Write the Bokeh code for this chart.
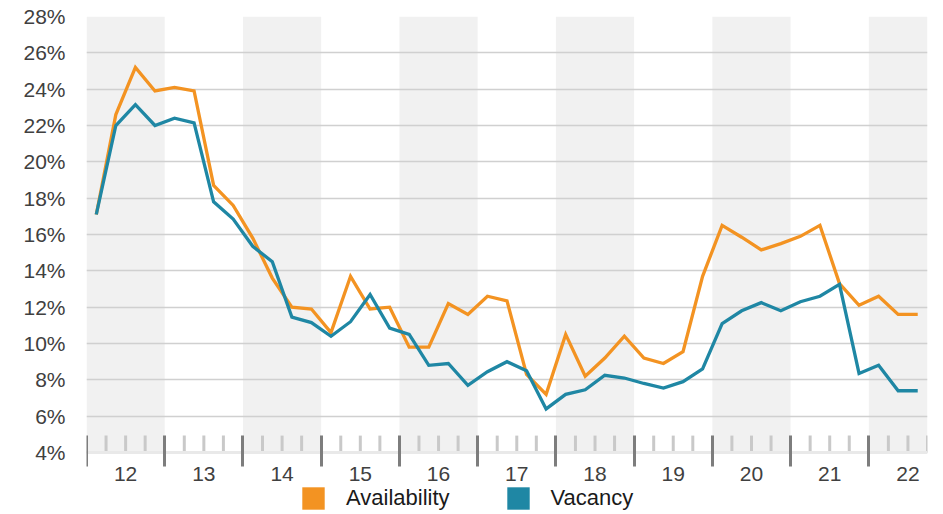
import numpy as np
from bokeh.plotting import figure
from bokeh.models import (FixedTicker, Legend, LegendItem, Range1d, LinearAxis)
from bokeh.embed import file_html
from bokeh.resources import INLINE

# ---- data ----
periods = [f"{y}Q{q}" for y in range(2012, 2023) for q in range(1, 5)][:43]
availability = [17.1, 22.6, 25.2, 23.9, 24.1, 23.9, 18.7, 17.6, 15.8, 13.6, 12.0, 11.9,
                10.6, 13.7, 11.9, 12.0, 9.8, 9.8, 12.2, 11.6, 12.6, 12.35, 8.3, 7.2,
                10.5, 8.2, 9.2, 10.4, 9.2, 8.9, 9.55, 13.7, 16.5, 15.85, 15.15, 15.5,
                15.9, 16.5, 13.3, 12.1, 12.6, 11.6, 11.6]
vacancy = [17.1, 22.0, 23.15, 22.0, 22.4, 22.15, 17.8, 16.85, 15.35, 14.5, 11.45, 11.15,
           10.4, 11.2, 12.7, 10.85, 10.5, 8.8, 8.9, 7.7, 8.45, 9.0, 8.5, 6.4,
           7.2, 7.45, 8.25, 8.1, 7.8, 7.55, 7.9, 8.6, 11.1, 11.8, 12.25, 11.8,
           12.3, 12.6, 13.25, 8.35, 8.8, 7.4, 7.4]
year_labels = ["12", "13", "14", "15", "16", "17", "18", "19", "20", "21", "22"]
y_ticks = [4, 6, 8, 10, 12, 14, 16, 18, 20, 22, 24, 26, 28]

ORANGE = "#F39322"
TEAL = "#1F87A4"
FONT = "Liberation Sans"

# positions derived from the period labels
x = [int(s[2:4]) + (int(s[-1]) - 0.5) / 4 for s in periods]
years = [int(s) for s in year_labels]
x_start = years[0]
x_end = x[-1] + 0.125

# layout: value axis spans 16px..452px; the frame continues to the bottom of the
# canvas (514px) so that the legend can sit underneath the x axis
W, H = 943, 514
top_px, axis_px = 16, 452
y_lo, y_hi = y_ticks[0], y_ticks[-1]
y_bottom = y_lo - (H - axis_px) * (y_hi - y_lo) / (axis_px - top_px)

p = figure(width=W, height=H, output_backend="svg", toolbar_location=None,
           x_range=Range1d(x_start, x_end), y_range=Range1d(y_bottom, y_hi),
           x_axis_location=None,
           min_border_left=86, min_border_right=16, min_border_top=top_px,
           min_border_bottom=0)
p.outline_line_color = None
p.background_fill_color = "white"
p.border_fill_color = "white"

# alternating year bands
band_years = years[::2]
p.quad(left=band_years, right=[min(b + 1, x_end) for b in band_years],
       bottom=y_lo, top=y_hi, fill_color="#f1f1f1", line_color=None,
       level="image")

# grid
p.xgrid.visible = False
p.ygrid.ticker = FixedTicker(ticks=y_ticks)
p.ygrid.grid_line_color = "#d0d0d0"
p.ygrid.grid_line_width = 1.5

# light quarter ticks inside plot
qb = [q for q in np.arange(x_start, x_end + 0.001, 0.25) if abs(q - round(q)) > 1e-6]
p.segment(x0=qb, x1=qb, y0=y_lo, y1=y_lo + 0.93, line_color="#c9c9c9", line_width=3)

# lines
p.line(x, availability, line_color=ORANGE, line_width=3.3, line_join="miter")
p.line(x, vacancy, line_color=TEAL, line_width=3.3, line_join="miter")

# y axis
yax = p.yaxis[0]
yax.ticker = FixedTicker(ticks=y_ticks)
yax.major_label_overrides = {t: f"{t}%" for t in y_ticks}
yax.axis_line_color = None
yax.major_tick_line_color = None
yax.minor_tick_line_color = None
yax.major_tick_out = 0
yax.major_tick_in = 0
yax.major_label_standoff = 21
yax.major_label_text_font = FONT
yax.major_label_text_font_size = "21px"
yax.major_label_text_color = "#404040"

# x axis, fixed at the 4% line
xax = LinearAxis(fixed_location=y_lo)
xax.ticker = FixedTicker(ticks=[y + 0.5 for y in years], minor_ticks=years)
xax.major_label_overrides = {y + 0.5: lab for y, lab in zip(years, year_labels)}
xax.major_tick_line_color = None
xax.major_tick_out = 0
xax.major_tick_in = 0
xax.minor_tick_line_color = "#7d7d7d"
xax.minor_tick_line_width = 3
xax.minor_tick_in = 17
xax.minor_tick_out = 14
xax.axis_line_color = "#e9e9e9"
xax.axis_line_width = 3
xax.major_label_standoff = 0
xax.major_label_text_font = FONT
xax.major_label_text_font_size = "21px"
xax.major_label_text_color = "#404040"
p.add_layout(xax, "below")

# legend swatches: hidden square glyphs used only for the legend
sw_a = p.quad(left=x, right=x, top=availability, bottom=availability,
              fill_color=ORANGE, line_color=None, visible=False, border_radius=4)
sw_v = p.quad(left=x, right=x, top=vacancy, bottom=vacancy,
              fill_color=TEAL, line_color=None, visible=False, border_radius=4)
legend = Legend(items=[LegendItem(label="Availability", renderers=[sw_a]),
                       LegendItem(label="Vacancy", renderers=[sw_v])],
                orientation="horizontal", location=(213, 2),
                glyph_width=28, glyph_height=28, label_standoff=19, spacing=54,
                padding=0, margin=0, border_line_color=None, background_fill_alpha=0,
                inactive_fill_alpha=0,
                label_text_font=FONT, label_text_font_size="22px",
                label_text_color="#1a1a1a")
p.add_layout(legend)

open("out.html", "w").write(file_html(p, INLINE))
